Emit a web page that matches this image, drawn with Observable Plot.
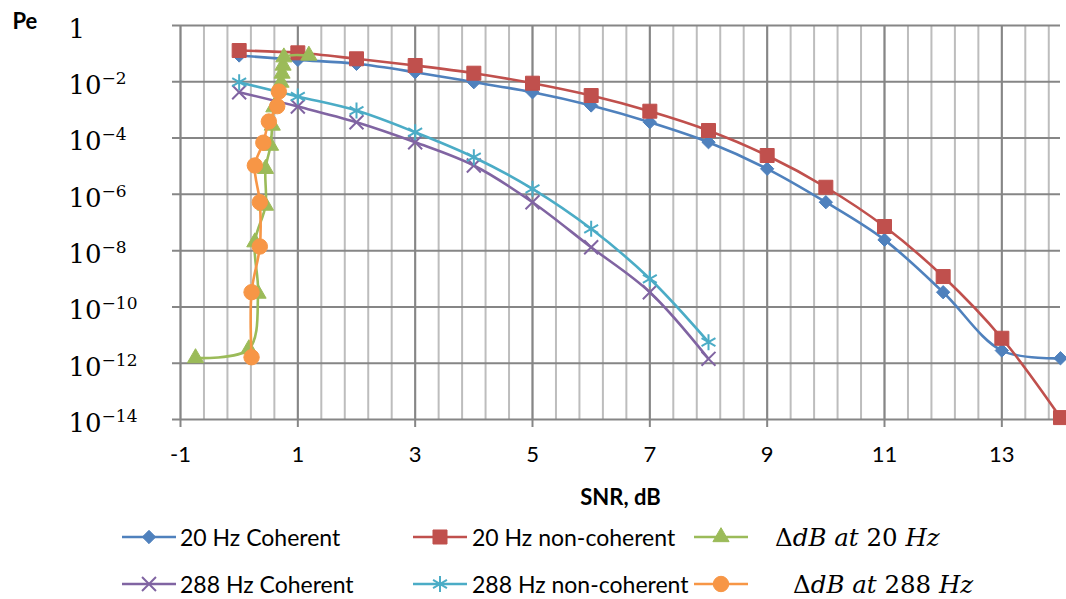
<!DOCTYPE html>
<html><head><meta charset="utf-8">
<script src="https://cdn.jsdelivr.net/npm/d3@7"></script>
<script src="https://cdn.jsdelivr.net/npm/@observablehq/plot@0.6"></script>
<style>
body{margin:0;background:#fff;}
#wrap{position:relative;width:1066px;height:599px;overflow:hidden;font-family:Lato,sans-serif;background:#fff;}
.leg{position:absolute;height:30px;line-height:30px;white-space:nowrap;font-size:23px;color:#000;}
.math{font-family:"DejaVu Serif",serif;font-size:24.5px;}
.sw{position:absolute;}
</style></head><body><div id="wrap"></div>
<script>
// ---- data ----
const snr20 = [0, 1, 2, 3, 4, 5, 6, 7, 8, 9, 10, 11, 12, 13, 14];
const pe20Coherent = [0.086, 0.060, 0.0435, 0.0219, 9.66e-3, 4.26e-3, 1.44e-3, 3.66e-4, 7.13e-5, 8.09e-6, 5.26e-7, 2.42e-8, 3.33e-10, 2.82e-12, 1.50e-12];
const pe20NonCoherent = [0.129, 0.107, 0.0656, 0.0379, 0.0202, 8.9e-3, 3.25e-3, 9.0e-4, 1.86e-4, 2.4e-5, 1.79e-6, 7.2e-8, 1.2e-9, 7.7e-12, 1.17e-14];
const snr288 = [0, 1, 2, 3, 4, 5, 6, 7, 8];
const pe288Coherent = [4.26e-3, 1.32e-3, 3.66e-4, 7.13e-5, 1.06e-5, 5.26e-7, 1.32e-8, 3.33e-10, 1.43e-12];
const pe288NonCoherent = [9.66e-3, 3.0e-3, 9.5e-4, 1.61e-4, 2.09e-5, 1.57e-6, 5.96e-8, 1.0e-9, 5.57e-12];
const deltaSnr20 = [-0.744, 0.165, 0.322, 0.267, 0.449, 0.449, 0.535, 0.564, 0.591, 0.714, 0.731, 0.748, 0.762, 1.188];
const deltaPe20 = [1.53e-12, 3.19e-12, 2.99e-10, 2.0e-8, 4.0e-7, 8.1e-6, 5.4e-5, 2.8e-4, 1.25e-3, 9.4e-3, 0.0197, 0.038, 0.0747, 0.086];
const deltaSnr288 = [0.211, 0.211, 0.352, 0.352, 0.267, 0.412, 0.506, 0.649, 0.676];
const deltaPe288 = [1.63e-12, 3.33e-10, 1.4e-8, 5.26e-7, 1.06e-5, 6.84e-5, 3.88e-4, 1.36e-3, 4.5e-3];
const xTicks = [-1, 1, 3, 5, 7, 9, 11, 13];
const xMinorStep = 0.4;
const yTicks = [1, 1e-2, 1e-4, 1e-6, 1e-8, 1e-10, 1e-12, 1e-14];
const seriesNames = ["20 Hz Coherent", "20 Hz non-coherent", "ΔdB at 20 Hz", "288 Hz Coherent", "288 Hz non-coherent", "ΔdB at 288 Hz"];

// ---- styling ----
const series = [
  {name: seriesNames[0], x: snr20, y: pe20Coherent, color: "#4F81BD", symbol: "diamond2", r: 6, fill: true},
  {name: seriesNames[1], x: snr20, y: pe20NonCoherent, color: "#C0504D", symbol: "square", r: 7.9, fill: true},
  {name: seriesNames[2], x: deltaSnr20, y: deltaPe20, color: "#9BBB59", symbol: "triangle", r: 6, fill: true},
  {name: seriesNames[3], x: snr288, y: pe288Coherent, color: "#8064A2", symbol: "times", r: 6.4, fill: false},
  {name: seriesNames[4], x: snr288, y: pe288NonCoherent, color: "#4BACC6", symbol: "asterisk", r: 7.6, fill: false},
  {name: seriesNames[5], x: deltaSnr288, y: deltaPe288, color: "#F79646", symbol: "circle", r: 7.7, fill: true}
];

const minorX = d3.range(0, Math.round((14 - -1) / xMinorStep)).map(i => -1 + i * xMinorStep);
const majorGrid = "#868686", minorGrid = "#bdbdbd";

const seriesMarks = series.flatMap(s => [
  Plot.line(s.y, {x: s.x, y: s.y, stroke: s.color, strokeWidth: 2.6, curve: "catmull-rom"}),
  Plot.dot(s.y, {x: s.x, y: s.y, symbol: () => s.symbol, r: s.r,
    fill: s.fill ? s.color : "none", stroke: s.color, strokeWidth: s.fill ? 1 : 2})
]);

const plot = Plot.plot({
  width: 1066, height: 515,
  marginLeft: 180, marginRight: 6, marginTop: 25, marginBottom: 96,
  x: {domain: [-1, 14]},
  y: {type: "log", domain: [1e-14, 1]},
  style: {fontFamily: "Lato, sans-serif", fontSize: "22px", background: "#fff", overflow: "visible", color: "#000"},
  marks: [
    Plot.ruleX(minorX, {stroke: minorGrid, strokeWidth: 2}),
    Plot.ruleX(xTicks, {stroke: majorGrid, strokeWidth: 2}),
    Plot.ruleY(yTicks, {stroke: majorGrid, strokeWidth: 2, insetLeft: -8}),
    Plot.axisX({ticks: xTicks, tickSize: 8, tickPadding: 19, stroke: majorGrid, strokeWidth: 2, fontSize: 22, label: null, tickFormat: d => String(d)}),
    Plot.axisY({ticks: yTicks, tickSize: 0, tickPadding: 112, textAnchor: "start", dy: 4,
      tickFormat: d => d === 1 ? "1" : "10|" + Math.round(-Math.log10(d)),
      fontFamily: "DejaVu Serif", fontSize: 26, label: null}),
    ...seriesMarks,
    Plot.text(["SNR, dB"], {frameAnchor: "bottom", text: d => d, dy: 78, lineAnchor: "middle", textAnchor: "middle", fontWeight: "bold", fontSize: 22}),
    Plot.text(["Pe"], {frameAnchor: "top-left", text: d => d, dx: -168, dy: -4, lineAnchor: "middle", textAnchor: "start", fontWeight: "bold", fontSize: 22})
  ]
});

// superscript exponents in the y tick labels
plot.querySelectorAll("text").forEach(t => {
  const s = t.textContent;
  if (/^10\|\d+$/.test(s)) {
    const e = s.split("|")[1];
    t.textContent = "";
    t.appendChild(document.createTextNode("10"));
    const sup = document.createElementNS("http://www.w3.org/2000/svg", "tspan");
    sup.setAttribute("dy", "-10");
    sup.setAttribute("font-size", "17");
    sup.textContent = "\u2212" + e;
    t.appendChild(sup);
  }
});

const wrap = document.getElementById("wrap");
wrap.appendChild(plot);
plot.style.position = "absolute"; plot.style.left = "0"; plot.style.top = "0";

// ---- legend ----
const legendPos = [
  {sw: 122, tx: 180, cy: 537}, {sw: 413, tx: 472, cy: 537}, {sw: 694, tx: 775, cy: 537},
  {sw: 122, tx: 180, cy: 584}, {sw: 413, tx: 472, cy: 584}, {sw: 694, tx: 793, cy: 584}
];
const symMap = {diamond2: d3.symbolDiamond2, square: d3.symbolSquare, triangle: d3.symbolTriangle,
  times: d3.symbolTimes, asterisk: d3.symbolAsterisk, circle: d3.symbolCircle};
series.forEach((s, i) => {
  const p = legendPos[i];
  const svg = d3.create("svg").attr("class", "sw").attr("width", 56).attr("height", 24)
    .style("left", p.sw + "px").style("top", (p.cy - 12) + "px");
  svg.append("line").attr("x1", 0).attr("x2", 54).attr("y1", 12).attr("y2", 12)
    .attr("stroke", s.color).attr("stroke-width", 2.6);
  svg.append("path").attr("transform", "translate(27,12)")
    .attr("d", d3.symbol(symMap[s.symbol], Math.PI * s.r * s.r)())
    .attr("fill", s.fill ? s.color : "none").attr("stroke", s.color).attr("stroke-width", s.fill ? 1 : 2);
  wrap.appendChild(svg.node());
  const div = document.createElement("div");
  div.className = "leg";
  div.style.left = p.tx + "px";
  div.style.top = (p.cy - 15) + "px";
  if (s.name.startsWith("Δ")) {
    const m = s.name.match(/^ΔdB at (\d+) Hz$/);
    div.innerHTML = '<span class="math">Δ<i>dB</i> <i>at</i> ' + m[1] + ' <i>Hz</i></span>';
  } else {
    div.textContent = s.name;
  }
  wrap.appendChild(div);
});
</script></body></html>
